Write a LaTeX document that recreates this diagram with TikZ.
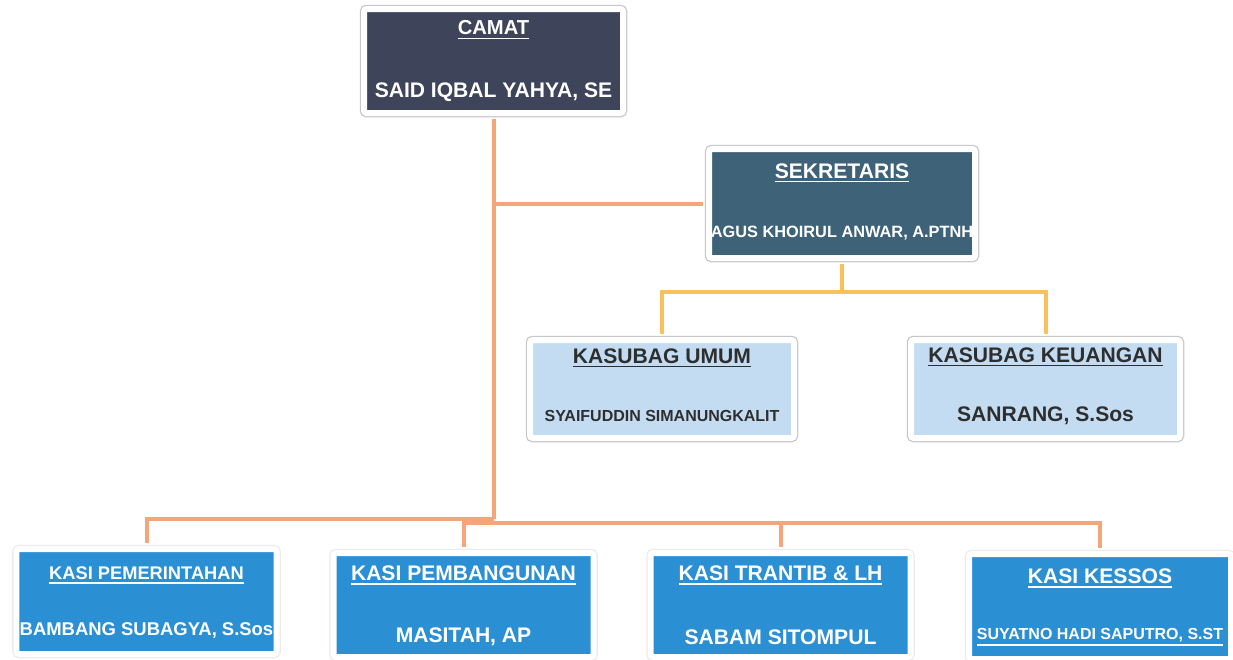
\documentclass[tikz,border=0pt]{standalone}
\usepackage{fontspec}
\setmainfont{Liberation Sans}
\usetikzlibrary{calc}

\definecolor{camatgray}{HTML}{3E4459}
\definecolor{sekslate}{HTML}{3E6277}
\definecolor{subagblue}{HTML}{C4DCF2}
\definecolor{subagtext}{HTML}{2E2E2E}
\definecolor{kasiblue}{HTML}{2B8FD4}
\definecolor{orgorange}{HTML}{F5A57A}
\definecolor{orgyellow}{HTML}{F8C15C}

\newcommand{\ultext}[1]{\leavevmode\vtop{\hbox{#1}\kern1.4pt\hrule height 0.9pt}}
\newcommand{\fsz}[1]{\fontsize{#1}{#1}\selectfont\bfseries}

\begin{document}
\begin{tikzpicture}[
  box/.style={draw=white, line width=0.12cm, rounded corners=1.5pt, inner sep=0pt,
    preaction={draw=#1, line width=0.17cm}},
  box/.default=black!22,
  kasibox/.style={box=black!8, fill=kasiblue, minimum width=5.2cm, minimum height=2.08cm},
  subagbox/.style={box, fill=subagblue, minimum height=1.96cm},
  orgline/.style={draw=orgorange, line width=0.08cm},
  subline/.style={draw=orgyellow, line width=0.08cm},
  darktext/.style={text=white},
  lighttext/.style={text=subagtext}
]
  \useasboundingbox (0,0) rectangle (24.66,-13.18);

  % camat
  \node[box, fill=camatgray, minimum width=5.18cm, minimum height=2.08cm] (camat) at (9.87,-1.22) {};
  \node[darktext, font=\fsz{11.5}] (camat-head) at ($(camat.center)+(0,0.62)$) {\ultext{CAMAT}};
  \node[darktext, font=\fsz{12}] (camat-name) at ($(camat.center)+(0,-0.62)$) {SAID IQBAL YAHYA, SE};

  % sekretaris
  \node[box, fill=sekslate, minimum width=5.32cm, minimum height=2.18cm] (sek) at (16.84,-4.07) {};
  \node[darktext, font=\fsz{12}] (sek-head) at ($(sek.center)+(0,0.61)$) {\ultext{SEKRETARIS}};
  \node[darktext, font=\fsz{9.3}] (sek-name) at ($(sek.center)+(0,-0.59)$) {AGUS KHOIRUL ANWAR, A.PTNH};

  % kasubag
  \node[subagbox, minimum width=5.28cm] (umum) at (13.24,-7.78) {};
  \node[lighttext, font=\fsz{12}] (umum-head) at ($(umum.center)+(0,0.62)$) {\ultext{KASUBAG UMUM}};
  \node[lighttext, font=\fsz{9.1}] (umum-name) at ($(umum.center)+(0,-0.54)$) {SYAIFUDDIN SIMANUNGKALIT};

  \node[subagbox, minimum width=5.38cm] (keu) at (20.91,-7.78) {};
  \node[lighttext, font=\fsz{12}] (keu-head) at ($(keu.center)+(0,0.64)$) {\ultext{KASUBAG KEUANGAN}};
  \node[lighttext, font=\fsz{12}] (keu-name) at ($(keu.center)+(0,-0.54)$) {SANRANG, S.Sos};

  % kasi
  \node[kasibox, minimum height=2.10cm] (pem) at (2.93,-12.03) {};
  \node[darktext, font=\fsz{10.4}] (pem-head) at ($(pem.center)+(0,0.53)$) {\ultext{KASI PEMERINTAHAN}};
  \node[darktext, font=\fsz{10.5}] (pem-name) at ($(pem.center)+(0,-0.57)$) {BAMBANG SUBAGYA, S.Sos};

  \node[kasibox] (bang) at (9.27,-12.10) {};
  \node[darktext, font=\fsz{12}] (bang-head) at ($(bang.center)+(0,0.59)$) {\ultext{KASI PEMBANGUNAN}};
  \node[darktext, font=\fsz{12}] (bang-name) at ($(bang.center)+(0,-0.64)$) {MASITAH, AP};

  \node[kasibox] (tran) at (15.61,-12.10) {};
  \node[darktext, font=\fsz{12}] (tran-head) at ($(tran.center)+(0,0.59)$) {\ultext{KASI TRANTIB \& LH}};
  \node[darktext, font=\fsz{12}] (tran-name) at ($(tran.center)+(0,-0.64)$) {SABAM SITOMPUL};

  \node[kasibox, minimum width=5.24cm, minimum height=2.10cm] (kes) at (22.00,-12.13) {};
  \node[darktext, font=\fsz{12}] (kes-head) at ($(kes.center)+(0,0.57)$) {\ultext{KASI KESSOS}};
  \node[darktext, font=\fsz{9.1}] (kes-name) at ($(kes.center)+(0,-0.61)$) {\ultext{SUYATNO HADI SAPUTRO, S.ST}};

  % garis
  \coordinate (bus) at (9.87,-10.38);
  \coordinate (rbus) at (0,-10.46);
  \coordinate (sbus) at (0,-5.84);

  \draw[orgline, shorten <=0.06cm] (camat.south) -- (bus);
  \draw[orgline, shorten >=0.06cm] (camat.south |- sek.west) -- (sek.west);
  \draw[orgline, shorten >=0.06cm] (bus) -| (pem.north);
  \draw[orgline, shorten <=0.06cm, shorten >=0.06cm] (bang.north) |- (rbus -| kes.north) -- (kes.north);
  \draw[orgline, shorten >=0.06cm] (rbus -| tran.north) -- (tran.north);

  \draw[subline, shorten <=0.06cm] (sek.south) -- (sek.south |- sbus);
  \draw[subline, shorten <=0.06cm, shorten >=0.06cm] (umum.north) |- (sbus -| keu.north) -- (keu.north);
\end{tikzpicture}
\end{document}
